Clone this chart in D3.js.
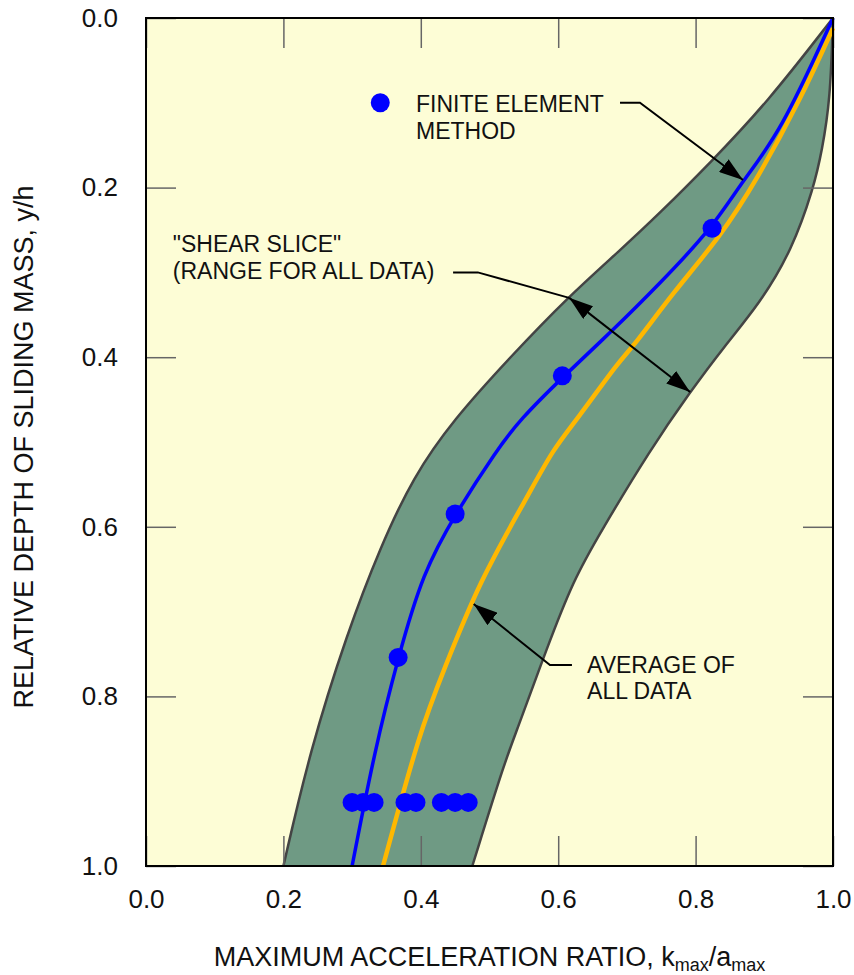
<!DOCTYPE html>
<html>
<head>
<meta charset="utf-8">
<script src="https://cdn.jsdelivr.net/npm/d3@7"></script>
<style>
  body { margin: 0; background: #fff; }
  svg text { font-family: "Liberation Sans", Arial, sans-serif; fill: #111; }
</style>
</head>
<body>
<div id="chart"></div>
<script>
// boundary of "shear slice" band, [k/a, y/h]
var bandLeft = [[1.0,0],[0.904,0.100],[0.821,0.171],[0.748,0.230],[0.690,0.274],[0.613,0.330],
  [0.530,0.400],[0.447,0.474],[0.389,0.541],[0.341,0.624],[0.293,0.725],[0.239,0.863],[0.200,1.0]];
var bandRight = [[1.0,0],[0.996,0.097],[0.984,0.156],[0.972,0.200],[0.940,0.274],[0.894,0.336],
  [0.841,0.388],[0.792,0.441],[0.734,0.509],[0.661,0.607],[0.622,0.663],[0.584,0.742],
  [0.540,0.840],[0.523,0.875],[0.475,1.0]];
// finite element curve
var feLine = [[1.0,0],[0.923,0.136],[0.869,0.191],[0.824,0.248],[0.748,0.313],[0.680,0.368],
  [0.607,0.423],[0.544,0.474],[0.511,0.509],[0.450,0.585],[0.403,0.654],[0.367,0.754],
  [0.333,0.863],[0.300,1.0]];
// average of all data
var avgLine = [[1.0,0.012],[0.952,0.097],[0.889,0.191],[0.836,0.258],[0.767,0.324],[0.709,0.388],
  [0.690,0.403],[0.627,0.474],[0.592,0.509],[0.555,0.565],[0.486,0.663],[0.432,0.772],
  [0.399,0.840],[0.345,1.0]];
// finite element results
var fePoints = [[0.824,0.248],[0.606,0.422],[0.450,0.585],[0.367,0.754],
  [0.300,0.925],[0.316,0.925],[0.332,0.925],[0.377,0.925],[0.393,0.925],
  [0.430,0.925],[0.450,0.925],[0.469,0.925]];
var tickValues = [0, 0.2, 0.4, 0.6, 0.8, 1.0];

var W = 854, H = 975;
var svg = d3.select('#chart').append('svg')
  .attr('width', W)
  .attr('height', H);

var x = d3.scaleLinear().domain([0, 1]).range([146, 833]);
var y = d3.scaleLinear().domain([0, 1]).range([18, 866]);

svg.append('rect')
  .attr('x', x(0)).attr('y', y(0))
  .attr('width', x(1) - x(0)).attr('height', y(1) - y(0))
  .attr('fill', '#fdfdd6');

var defs = svg.append('defs');
defs.append('marker')
  .attr('id', 'head')
  .attr('markerUnits', 'userSpaceOnUse')
  .attr('viewBox', '0 -8 24 16')
  .attr('refX', 24).attr('refY', 0)
  .attr('markerWidth', 24).attr('markerHeight', 16)
  .attr('orient', 'auto-start-reverse')
  .append('path')
  .attr('d', 'M0,-8L24,0L0,8Z')
  .attr('fill', '#000');

var curve = d3.line()
  .x(function(d) { return x(d[0]); })
  .y(function(d) { return y(d[1]); })
  .curve(d3.curveBasis);

// band polygon: left edge down, right edge back up
var leftPath = curve(bandLeft);
var rightPath = curve(bandRight.slice().reverse());
svg.append('path')
  .attr('d', leftPath + 'L' + rightPath.slice(1) + 'Z')
  .attr('fill', '#6f9a84')
  .attr('stroke', 'none');
[bandLeft, bandRight].forEach(function(edge) {
  svg.append('path')
    .attr('d', curve(edge))
    .attr('fill', 'none')
    .attr('stroke', '#444')
    .attr('stroke-width', 2.5);
});

// axes (ticks inside the frame)
var axB = d3.axisBottom(x).tickValues(tickValues).tickFormat(d3.format('.1f'))
  .tickSizeInner(-30).tickSizeOuter(0).tickPadding(24);
var axL = d3.axisLeft(y).tickValues(tickValues).tickFormat(d3.format('.1f'))
  .tickSizeInner(-30).tickSizeOuter(0).tickPadding(28);
var axT = d3.axisTop(x).tickValues(tickValues).tickFormat('')
  .tickSizeInner(-30).tickSizeOuter(0);
var axR = d3.axisRight(y).tickValues(tickValues).tickFormat('')
  .tickSizeInner(-30).tickSizeOuter(0);

function drawAxis(ax, tx, ty) {
  var g = svg.append('g').attr('transform', 'translate(' + tx + ',' + ty + ')').call(ax);
  g.select('.domain').remove();
  g.selectAll('line').attr('stroke', '#666').attr('stroke-width', 1.5);
  g.selectAll('text').attr('font-size', 26).attr('font-family', '"Liberation Sans", Arial, sans-serif').attr('fill', '#111');
  return g;
}
drawAxis(axB, 0, y(1));
drawAxis(axL, x(0), 0);
drawAxis(axT, 0, y(0));
drawAxis(axR, x(1), 0);

// lines
svg.append('path')
  .attr('d', curve(avgLine))
  .attr('fill', 'none')
  .attr('stroke', '#ffb800')
  .attr('stroke-width', 4.5);
svg.append('path')
  .attr('d', curve(feLine))
  .attr('fill', 'none')
  .attr('stroke', '#0000ff')
  .attr('stroke-width', 3.5);

svg.selectAll('circle.fe')
  .data(fePoints)
  .enter().append('circle')
  .attr('class', 'fe')
  .attr('cx', function(d) { return x(d[0]); })
  .attr('cy', function(d) { return y(d[1]); })
  .attr('r', 9.5)
  .attr('fill', '#0000ff');

// frame
svg.append('rect')
  .attr('x', x(0)).attr('y', y(0))
  .attr('width', x(1) - x(0)).attr('height', y(1) - y(0))
  .attr('fill', 'none')
  .attr('stroke', '#000')
  .attr('stroke-width', 2);

// annotations
var pline = d3.line()
  .x(function(d) { return x(d[0]); })
  .y(function(d) { return y(d[1]); });

function note(lines, px, py) {
  var t = svg.append('text')
    .attr('x', x(px)).attr('y', y(py))
    .attr('font-size', 23);
  lines.forEach(function(s, i) {
    t.append('tspan').attr('x', x(px)).attr('dy', i ? 26.5 : 0).text(s);
  });
}

svg.append('circle')
  .attr('cx', x(0.341)).attr('cy', y(0.100)).attr('r', 9.5)
  .attr('fill', '#0000ff');
note(['FINITE ELEMENT', 'METHOD'], 0.393, 0.111);
svg.append('path')
  .attr('d', pline([[0.690, 0.100], [0.719, 0.100], [0.869, 0.191]]))
  .attr('fill', 'none').attr('stroke', '#000').attr('stroke-width', 2)
  .attr('marker-end', 'url(#head)');

note(['"SHEAR SLICE"', '(RANGE FOR ALL DATA)'], 0.039, 0.276);
svg.append('path')
  .attr('d', pline([[0.447, 0.300], [0.483, 0.300], [0.616, 0.330]]))
  .attr('fill', 'none').attr('stroke', '#000').attr('stroke-width', 2);
svg.append('path')
  .attr('d', pline([[0.616, 0.330], [0.792, 0.441]]))
  .attr('fill', 'none').attr('stroke', '#000').attr('stroke-width', 2)
  .attr('marker-start', 'url(#head)')
  .attr('marker-end', 'url(#head)');

note(['AVERAGE OF', 'ALL DATA'], 0.642, 0.772);
svg.append('path')
  .attr('d', pline([[0.620, 0.763], [0.588, 0.763], [0.477, 0.691]]))
  .attr('fill', 'none').attr('stroke', '#000').attr('stroke-width', 2)
  .attr('marker-end', 'url(#head)');

// axis titles
var xt = svg.append('text')
  .attr('x', (x(0) + x(1)) / 2).attr('y', 966)
  .attr('text-anchor', 'middle')
  .attr('font-size', 27);
xt.append('tspan').text('MAXIMUM ACCELERATION RATIO, k');
xt.append('tspan').attr('font-size', 18).attr('dy', 5).text('max');
xt.append('tspan').attr('dy', -5).text('/a');
xt.append('tspan').attr('font-size', 18).attr('dy', 5).text('max');

svg.append('text')
  .attr('transform', 'translate(33,' + ((y(0) + y(1)) / 2 + 5) + ') rotate(-90)')
  .attr('text-anchor', 'middle')
  .attr('font-size', 27)
  .text('RELATIVE DEPTH OF SLIDING MASS, y/h');
</script>
</body>
</html>
